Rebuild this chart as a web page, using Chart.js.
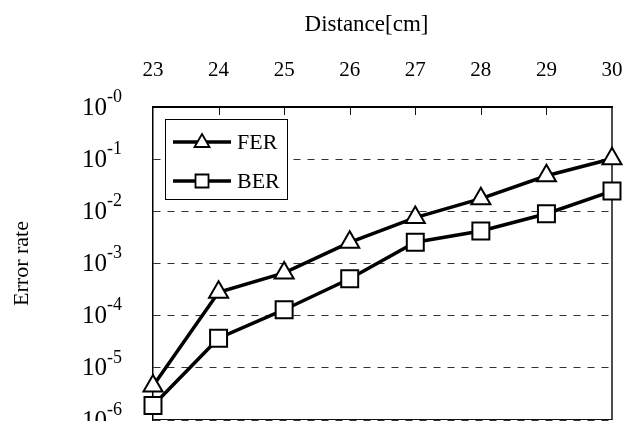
<!DOCTYPE html>
<html>
<head>
<meta charset="utf-8">
<script src="https://cdn.jsdelivr.net/npm/chart.js@4.4.1/dist/chart.umd.min.js"></script>
<style>
  html, body { margin: 0; padding: 0; background: #fff; }
  #wrap { width: 625px; height: 421px; position: relative; }
</style>
</head>
<body>
<div id="wrap"><canvas id="errChart"></canvas></div>
<script>
// values
const distances = ['23', '24', '25', '26', '27', '28', '29', '30'];
const ferValues = [4.5e-6, 2.8e-4, 6.6e-4, 2.55e-3, 7.6e-3, 1.75e-2, 4.8e-2, 0.102];
const berValues = [1.9e-6, 3.7e-5, 1.3e-4, 5.1e-4, 2.55e-3, 4.2e-3, 9.0e-3, 2.45e-2];
const yTickValues = [1, 1e-1, 1e-2, 1e-3, 1e-4, 1e-5, 1e-6];
const yTickBase = '10';
const yTickExps = ['-0', '-1', '-2', '-3', '-4', '-5', '-6'];
const xTitle = 'Distance[cm]';

const serif = '"Liberation Serif", "Times New Roman", serif';

// y tick labels with superscript exponents, and the x title
const textPlugin = {
  id: 'texts',
  afterDraw(chart) {
    const ctx = chart.ctx;
    const y = chart.scales.y;
    const a = chart.chartArea;
    ctx.save();
    ctx.fillStyle = '#000';
    ctx.textBaseline = 'middle';
    yTickValues.forEach((v, i) => {
      const py = y.getPixelForValue(v) + 1;
      ctx.font = '25px ' + serif;
      ctx.textAlign = 'right';
      ctx.fillText(yTickBase, 107, py);
      ctx.font = '18px ' + serif;
      ctx.textAlign = 'left';
      ctx.fillText(yTickExps[i], 107, py - 11);
    });
    ctx.font = '23px ' + serif;
    ctx.textAlign = 'center';
    ctx.fillText(xTitle, (a.left + a.right) / 2 - 16, 25);
    ctx.restore();
  }
};

// right / bottom frame and inward ticks on the top axis
const framePlugin = {
  id: 'frame',
  beforeDatasetsDraw(chart) {
    const ctx = chart.ctx;
    const a = chart.chartArea;
    const x = chart.scales.x;
    ctx.save();
    ctx.strokeStyle = '#111';
    ctx.lineWidth = 1.5;
    ctx.beginPath();
    ctx.moveTo(a.right, a.top);
    ctx.lineTo(a.right, a.bottom);
    ctx.stroke();
    ctx.lineWidth = 1;
    ctx.beginPath();
    ctx.moveTo(a.left, a.bottom - 0.5);
    ctx.lineTo(a.right, a.bottom - 0.5);
    for (let i = 1; i < distances.length - 1; i++) {
      const px = Math.round(x.getPixelForTick(i)) + 0.5;
      ctx.moveTo(px, a.top);
      ctx.lineTo(px, a.top + 8);
    }
    ctx.stroke();
    ctx.restore();
  }
};

// boxed legend inside the plot, line with marker in the middle
const legendPlugin = {
  id: 'boxLegend',
  afterDatasetsDraw(chart) {
    const ctx = chart.ctx;
    ctx.save();
    ctx.fillStyle = '#fff';
    ctx.strokeStyle = '#000';
    ctx.lineWidth = 1;
    ctx.fillRect(165, 119, 122, 80);
    ctx.strokeRect(165.5, 119.5, 122, 80);
    const rows = [142, 181];
    chart.data.datasets.forEach((ds, i) => {
      const ry = rows[i];
      ctx.strokeStyle = '#000';
      ctx.lineWidth = 3.5;
      ctx.beginPath();
      ctx.moveTo(173, ry);
      ctx.lineTo(231, ry);
      ctx.stroke();
      ctx.lineWidth = 1.8;
      ctx.fillStyle = '#fff';
      ctx.beginPath();
      if (ds.pointStyle === 'triangle') {
        ctx.moveTo(202, ry - 8);
        ctx.lineTo(209.5, ry + 5);
        ctx.lineTo(194.5, ry + 5);
        ctx.closePath();
      } else {
        ctx.rect(195.5, ry - 6.5, 13, 13);
      }
      ctx.fill();
      ctx.stroke();
      ctx.fillStyle = '#000';
      ctx.font = '22px ' + serif;
      ctx.textAlign = 'left';
      ctx.textBaseline = 'middle';
      ctx.fillText(ds.label, 237, ry + 1);
    });
    ctx.restore();
  }
};

new Chart(document.getElementById('errChart'), {
  type: 'line',
  data: {
    labels: distances,
    datasets: [
      {
        label: 'FER',
        data: ferValues,
        borderColor: '#000',
        borderWidth: 3.5,
        pointStyle: 'triangle',
        pointRadius: 11,
        pointBorderWidth: 2,
        pointBackgroundColor: '#fff',
        pointBorderColor: '#000',
        tension: 0,
        clip: false
      },
      {
        label: 'BER',
        data: berValues,
        borderColor: '#000',
        borderWidth: 3.5,
        pointStyle: 'rect',
        pointRadius: 12,
        pointBorderWidth: 2,
        pointBackgroundColor: '#fff',
        pointBorderColor: '#000',
        tension: 0,
        clip: false
      }
    ]
  },
  options: {
    responsive: true,
    maintainAspectRatio: false,
    animation: false,
    layout: { autoPadding: false, padding: { right: 13, bottom: 1 } },
    plugins: {
      legend: { display: false },
      tooltip: { enabled: false },
      title: { display: false }
    },
    scales: {
      x: {
        type: 'category',
        position: 'top',
        offset: false,
        afterFit(scale) {
          scale.height = 107;
          scale.paddingLeft = 0;
          scale.paddingRight = 0;
        },
        grid: { drawOnChartArea: false, drawTicks: false },
        border: { display: true, color: '#000', width: 2 },
        ticks: {
          color: '#000',
          font: { family: serif, size: 21 },
          padding: 24,
          maxRotation: 0,
          autoSkip: false
        }
      },
      y: {
        type: 'logarithmic',
        min: 1e-6,
        max: 1,
        afterBuildTicks(scale) {
          scale.ticks = yTickValues.map(v => ({ value: v }));
        },
        afterFit(scale) {
          scale.width = 153;
          scale.paddingTop = 0;
          scale.paddingBottom = 0;
        },
        grid: {
          drawTicks: false,
          lineWidth: 1,
          color: (c) => (c.tick && c.tick.value === 1 ? 'rgba(0,0,0,0)' : '#333')
        },
        border: { display: true, color: '#000', width: 1.5, dash: [7, 7] },
        ticks: { display: false },
        title: {
          display: true,
          text: 'Error rate',
          color: '#000',
          font: { family: serif, size: 22 },
          padding: { top: 9, bottom: 0 }
        }
      }
    }
  },
  plugins: [textPlugin, framePlugin, legendPlugin]
});
</script>
</body>
</html>
